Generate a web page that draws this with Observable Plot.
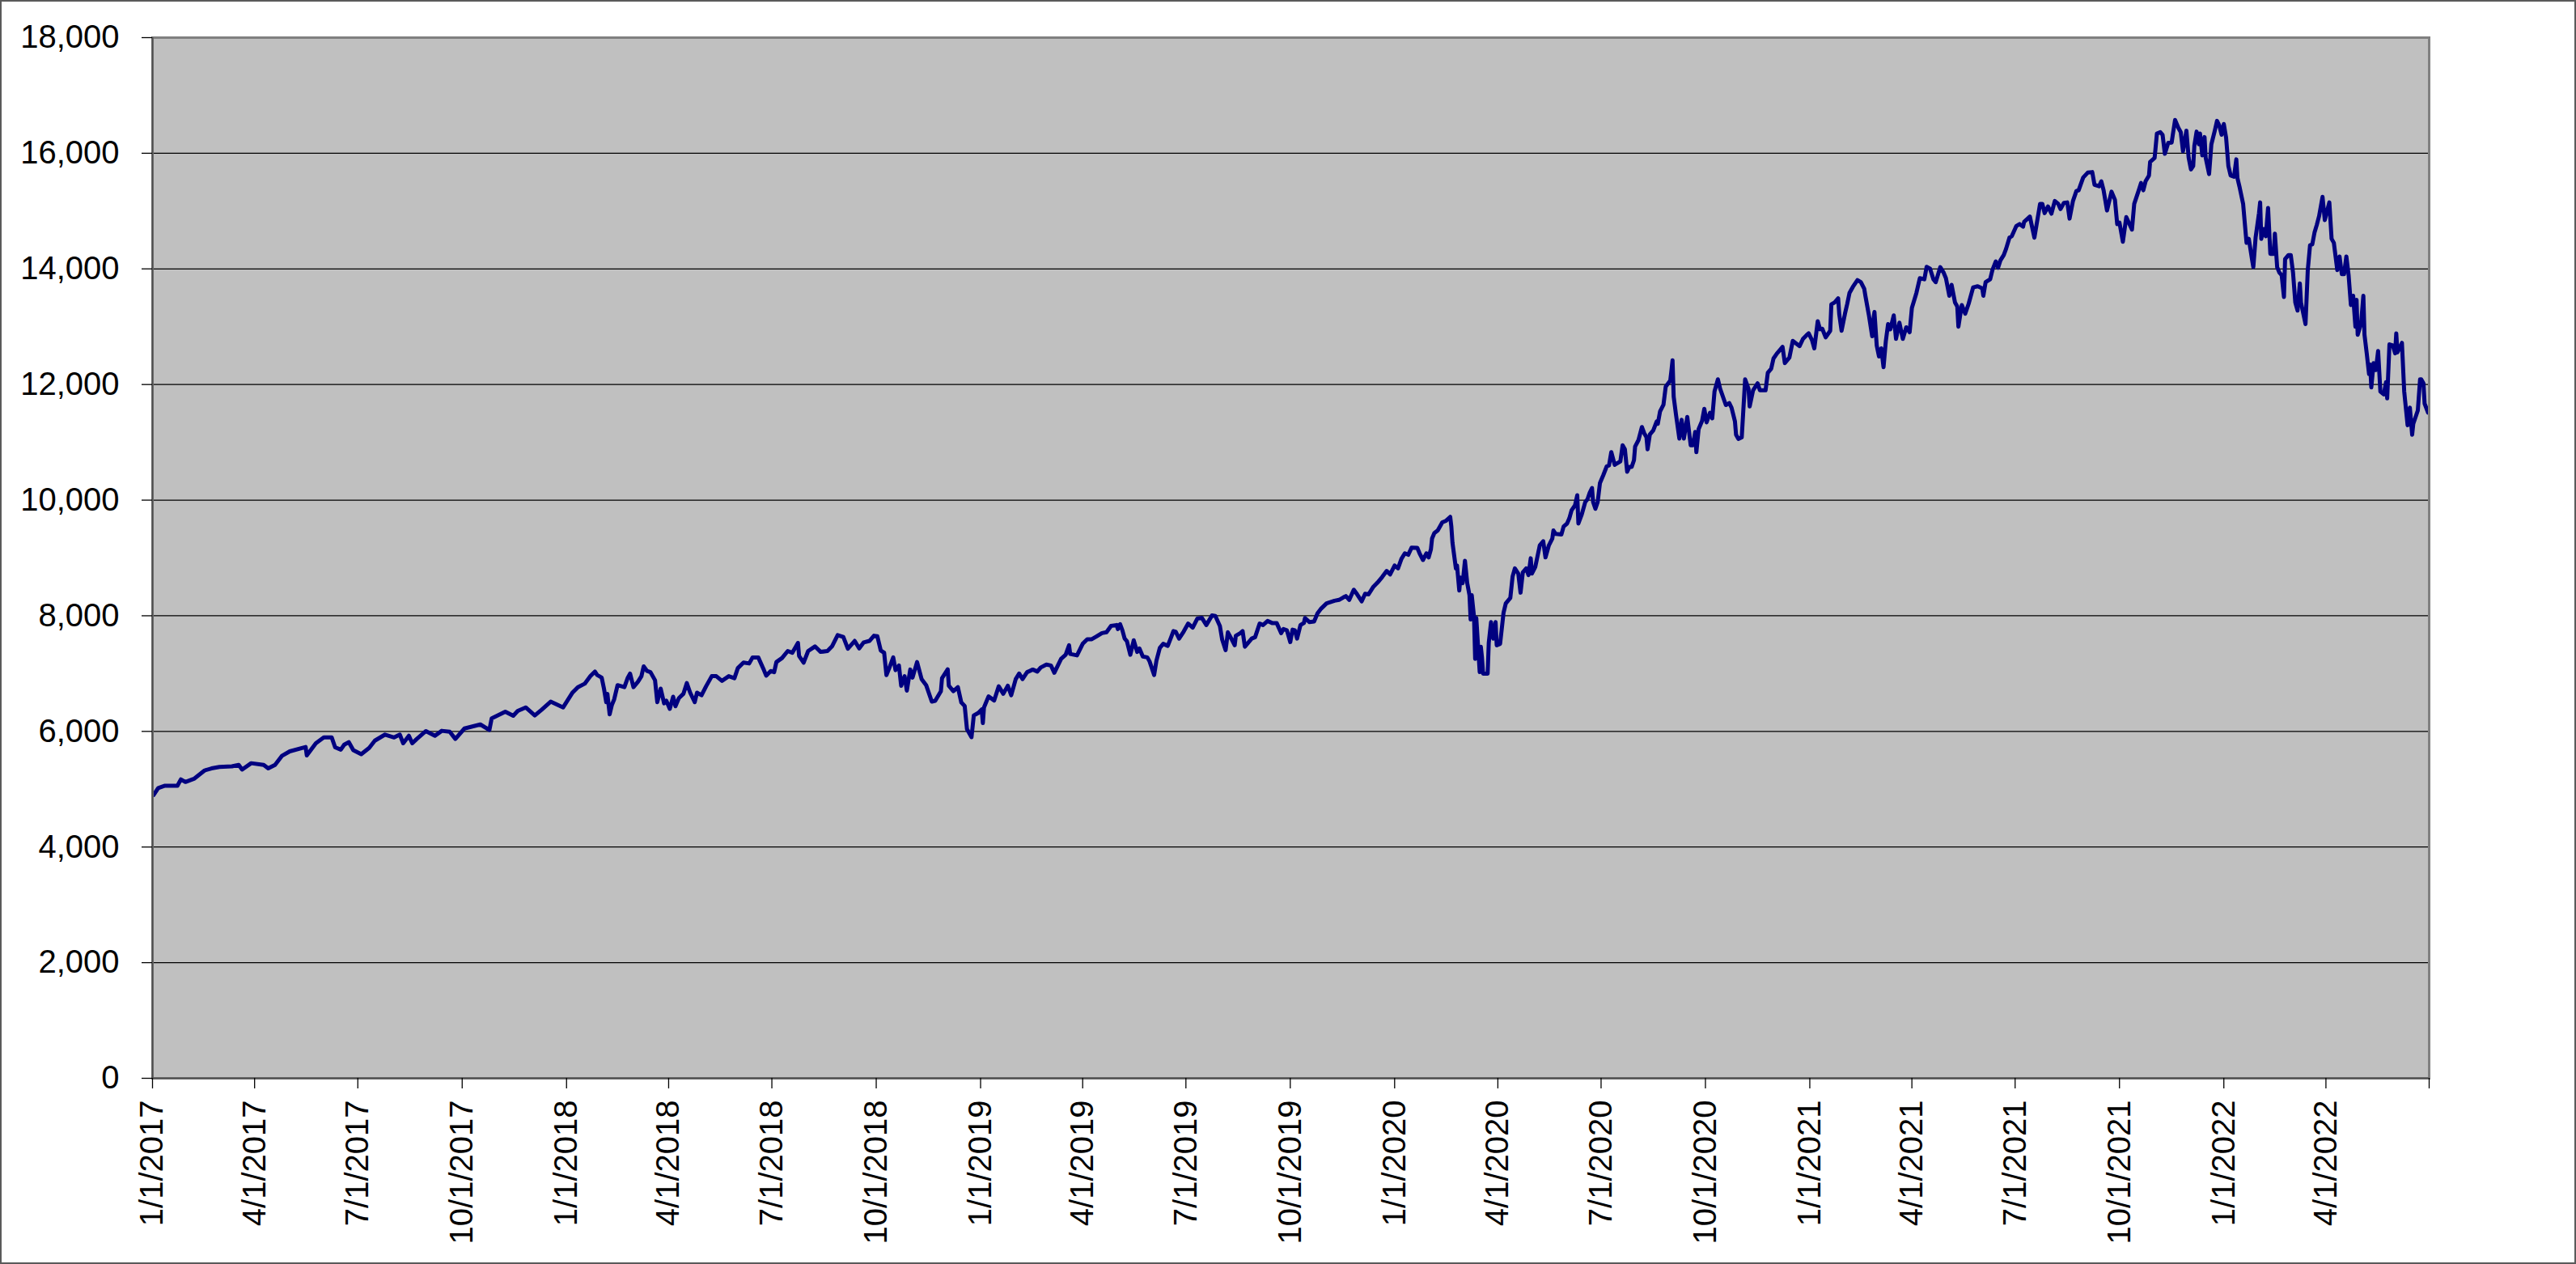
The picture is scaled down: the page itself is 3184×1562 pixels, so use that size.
<!DOCTYPE html>
<html>
<head>
<meta charset="utf-8">
<script src="https://cdn.jsdelivr.net/npm/d3@7"></script>
<script src="https://cdn.jsdelivr.net/npm/@observablehq/plot@0.6"></script>
<style>
  html, body { margin: 0; padding: 0; background: #ffffff; }
  #wrap { position: relative; width: 3184px; height: 1562px; overflow: hidden; background: #ffffff; }
  #wrap svg { position: absolute; left: 0; top: 0; }
  #border { position: absolute; left: 0; top: 0; width: 3184px; height: 1562px; box-sizing: border-box; border: 2px solid #5a5a5a; pointer-events: none; }
</style>
</head>
<body>
<div id="wrap"><div id="border"></div></div>
<script>
// ---- Data (date, index level) ----
const y2017 = [
["2017-01-02",4900],["2017-01-06",5020],["2017-01-12",5060],["2017-01-23",5060],["2017-01-26",5170],
["2017-01-30",5125],["2017-02-07",5185],["2017-02-16",5325],["2017-02-22",5360],["2017-03-01",5385],
["2017-03-12",5395],["2017-03-18",5420],["2017-03-21",5340],["2017-03-29",5450],["2017-04-09",5420],
["2017-04-13",5360],["2017-04-19",5420],["2017-04-25",5575],["2017-05-02",5655],["2017-05-16",5730],
["2017-05-17",5585],["2017-05-25",5795],["2017-06-01",5895],["2017-06-08",5895],["2017-06-11",5725],
["2017-06-16",5685],["2017-06-19",5770],["2017-06-23",5815],["2017-06-27",5675],["2017-07-04",5605],
["2017-07-11",5715],["2017-07-16",5840],["2017-07-25",5945],["2017-08-02",5895],["2017-08-07",5945],
["2017-08-10",5795],["2017-08-15",5925],["2017-08-18",5795],["2017-08-22",5870],["2017-08-30",6005],
["2017-09-07",5925],["2017-09-13",6010],["2017-09-20",5995],["2017-09-25",5870],["2017-10-03",6050],
["2017-10-17",6120],["2017-10-25",6025],["2017-10-27",6225],["2017-11-08",6340],["2017-11-15",6270],
["2017-11-19",6355],["2017-11-26",6415],["2017-12-04",6275],["2017-12-10",6375],["2017-12-18",6515],
["2017-12-29",6415]
];
const y2018 = [
["2018-01-06",6665],["2018-01-11",6765],["2018-01-17",6825],["2018-01-22",6955],["2018-01-26",7035],
["2018-01-28",6975],["2018-02-01",6930],["2018-02-03",6740],["2018-02-05",6505],["2018-02-06",6650],
["2018-02-08",6295],["2018-02-10",6460],["2018-02-12",6555],["2018-02-15",6800],["2018-02-21",6765],
["2018-02-24",6930],["2018-02-26",7000],["2018-03-01",6765],["2018-03-05",6860],["2018-03-08",6955],
["2018-03-10",7125],["2018-03-13",7045],["2018-03-16",7025],["2018-03-20",6885],["2018-03-22",6505],
["2018-03-25",6740],["2018-03-28",6485],["2018-03-30",6530],["2018-04-02",6390],["2018-04-05",6600],
["2018-04-07",6435],["2018-04-10",6575],["2018-04-14",6650],["2018-04-17",6835],["2018-04-20",6670],
["2018-04-24",6505],["2018-04-26",6670],["2018-04-30",6625],["2018-05-04",6780],["2018-05-09",6955],
["2018-05-13",6955],["2018-05-18",6875],["2018-05-24",6955],["2018-05-29",6920],["2018-06-01",7095],
["2018-06-06",7190],["2018-06-11",7175],["2018-06-14",7280],["2018-06-19",7280],["2018-06-24",7060],
["2018-06-26",6965],["2018-06-30",7045],["2018-07-03",7025],["2018-07-05",7200],["2018-07-10",7270],
["2018-07-15",7390],["2018-07-19",7360],["2018-07-24",7530],["2018-07-25",7305],["2018-07-29",7190],
["2018-08-02",7390],["2018-08-08",7470],["2018-08-13",7375],["2018-08-19",7390],["2018-08-23",7470],
["2018-08-28",7665],["2018-09-02",7635],["2018-09-06",7430],["2018-09-12",7565],["2018-09-16",7435],
["2018-09-20",7540],["2018-09-25",7565],["2018-09-29",7655],["2018-10-02",7645],["2018-10-05",7400],
["2018-10-08",7360],["2018-10-10",6975],["2018-10-12",7070],["2018-10-16",7280],["2018-10-18",7060],
["2018-10-21",7140],["2018-10-23",6790],["2018-10-26",6955],["2018-10-28",6705],["2018-10-31",7070],
["2018-11-02",6930],["2018-11-06",7200],["2018-11-10",6905],["2018-11-14",6800],["2018-11-19",6515],
["2018-11-22",6530],["2018-11-27",6695],["2018-11-28",6920],["2018-12-03",7075],["2018-12-04",6790],
["2018-12-08",6695],["2018-12-12",6765],["2018-12-15",6500],["2018-12-18",6440],["2018-12-20",6040],
["2018-12-24",5900],["2018-12-26",6275],["2018-12-30",6320]
];
const y2019 = [
["2019-01-02",6380],["2019-01-03",6145],["2019-01-04",6415],["2019-01-08",6605],["2019-01-13",6535],
["2019-01-17",6780],["2019-01-21",6650],["2019-01-25",6790],["2019-01-28",6625],["2019-02-01",6905],
["2019-02-04",7000],["2019-02-07",6905],["2019-02-11",7025],["2019-02-16",7070],["2019-02-20",7035],
["2019-02-23",7105],["2019-02-28",7155],["2019-03-04",7140],["2019-03-07",7015],["2019-03-13",7255],
["2019-03-17",7325],["2019-03-20",7490],["2019-03-21",7340],["2019-03-27",7315],["2019-04-01",7515],
["2019-04-05",7595],["2019-04-09",7595],["2019-04-13",7640],["2019-04-18",7700],["2019-04-22",7715],
["2019-04-26",7825],["2019-05-01",7840],["2019-05-02",7770],["2019-05-04",7855],["2019-05-06",7750],
["2019-05-08",7605],["2019-05-10",7560],["2019-05-13",7325],["2019-05-16",7575],["2019-05-19",7375],
["2019-05-21",7435],["2019-05-24",7295],["2019-05-28",7280],["2019-05-30",7210],["2019-06-03",6975],
["2019-06-05",7220],["2019-06-08",7445],["2019-06-11",7515],["2019-06-15",7480],["2019-06-18",7630],
["2019-06-20",7735],["2019-06-22",7725],["2019-06-25",7605],["2019-06-29",7725],["2019-07-03",7865],
["2019-07-07",7795],["2019-07-11",7950],["2019-07-15",7965],["2019-07-19",7840],["2019-07-24",8005],
["2019-07-27",7995],["2019-07-31",7820],["2019-08-02",7585],["2019-08-05",7405],["2019-08-07",7715],
["2019-08-10",7605],["2019-08-13",7490],["2019-08-14",7655],["2019-08-18",7700],["2019-08-20",7735],
["2019-08-22",7465],["2019-08-25",7535],["2019-08-28",7605],["2019-08-31",7630],["2019-09-04",7865],
["2019-09-07",7840],["2019-09-11",7910],["2019-09-15",7875],["2019-09-19",7875],["2019-09-23",7700],
["2019-09-25",7770],["2019-09-28",7750],["2019-10-01",7545],["2019-10-03",7760],["2019-10-05",7750],
["2019-10-07",7605],["2019-10-10",7840],["2019-10-13",7875],["2019-10-14",7960],["2019-10-18",7890],
["2019-10-22",7900],["2019-10-25",8040],["2019-10-28",8120],["2019-11-02",8215],["2019-11-09",8260],
["2019-11-13",8275],["2019-11-17",8320],["2019-11-19",8340],["2019-11-22",8275],["2019-11-26",8450],
["2019-11-29",8370],["2019-12-03",8250],["2019-12-06",8380],["2019-12-09",8370],["2019-12-13",8495],
["2019-12-17",8575],["2019-12-21",8670],["2019-12-25",8775],["2019-12-28",8715]
];
const y2020 = [
["2020-01-01",8870],["2020-01-04",8820],["2020-01-07",8985],["2020-01-10",9080],["2020-01-13",9055],
["2020-01-16",9180],["2020-01-21",9175],["2020-01-23",9080],["2020-01-26",8965],["2020-01-29",9080],
["2020-01-31",9010],["2020-02-02",9150],["2020-02-03",9335],["2020-02-05",9430],["2020-02-08",9475],
["2020-02-12",9615],["2020-02-15",9640],["2020-02-19",9710],["2020-02-20",9545],["2020-02-21",9265],
["2020-02-24",8820],["2020-02-25",8870],["2020-02-27",8435],["2020-02-28",8660],["2020-03-01",8565],
["2020-03-03",8950],["2020-03-05",8565],["2020-03-07",8355],["2020-03-08",7935],["2020-03-09",8355],
["2020-03-11",7980],["2020-03-12",7255],["2020-03-13",7960],["2020-03-16",7025],["2020-03-17",7465],
["2020-03-18",7280],["2020-03-19",7000],["2020-03-21",7000],["2020-03-23",7000],["2020-03-24",7535],
["2020-03-26",7890],["2020-03-28",7605],["2020-03-30",7890],["2020-03-31",7490],["2020-04-03",7515],
["2020-04-06",8050],["2020-04-08",8215],["2020-04-12",8310],["2020-04-14",8680],["2020-04-16",8820],
["2020-04-19",8730],["2020-04-21",8400],["2020-04-23",8750],["2020-04-26",8820],["2020-04-28",8705],
["2020-04-30",8995],["2020-05-01",8730],["2020-05-04",8845],["2020-05-08",9220],["2020-05-11",9290],
["2020-05-13",9010],["2020-05-16",9220],["2020-05-19",9335],["2020-05-20",9475],["2020-05-22",9415],
["2020-05-27",9405],["2020-05-29",9545],["2020-06-01",9595],["2020-06-03",9685],["2020-06-05",9825],
["2020-06-08",9910],["2020-06-10",10085],["2020-06-11",9595],["2020-06-14",9755],["2020-06-17",9965],
["2020-06-19",10015],["2020-06-21",10130],["2020-06-23",10210],["2020-06-24",9965],["2020-06-26",9850],
["2020-06-28",9965],["2020-06-30",10295],["2020-07-03",10435],["2020-07-06",10585],["2020-07-08",10600],
["2020-07-10",10830],["2020-07-13",10610],["2020-07-16",10645],["2020-07-18",10670],["2020-07-20",10950],
["2020-07-22",10880],["2020-07-24",10490],["2020-07-26",10575],["2020-07-28",10575],["2020-07-30",10690],
["2020-07-31",10925],["2020-08-03",11040],["2020-08-06",11265],["2020-08-08",11160],["2020-08-10",11090],
["2020-08-11",10880],["2020-08-13",11135],["2020-08-16",11205],["2020-08-19",11360],["2020-08-20",11320],
["2020-08-22",11535],["2020-08-25",11650],["2020-08-27",11965],["2020-08-31",12070],["2020-09-01",12235],
["2020-09-02",12420],["2020-09-03",11790],["2020-09-05",11485],["2020-09-08",11065],["2020-09-10",11390],
["2020-09-12",11065],["2020-09-15",11440],["2020-09-18",10950],["2020-09-20",10950],["2020-09-22",11180],
["2020-09-23",10830],["2020-09-25",11230],["2020-09-28",11370],["2020-09-30",11580],["2020-10-02",11345],
["2020-10-05",11510],["2020-10-07",11415],["2020-10-09",11880],["2020-10-12",12090],["2020-10-14",11925],
["2020-10-19",11645],["2020-10-22",11680],["2020-10-24",11600],["2020-10-27",11365],["2020-10-28",11130],
["2020-10-30",11060],["2020-11-02",11085],["2020-11-05",12090],["2020-11-08",11925],["2020-11-09",11620],
["2020-11-12",11900],["2020-11-16",12020],["2020-11-18",11900],["2020-11-23",11900],["2020-11-25",12205],
["2020-11-28",12275],["2020-11-30",12450],["2020-12-03",12535],["2020-12-05",12580],["2020-12-08",12650],
["2020-12-10",12370],["2020-12-14",12465],["2020-12-17",12755],["2020-12-23",12665],["2020-12-26",12790],
["2020-12-29",12850],["2020-12-31",12885]
];
const y2021 = [
["2021-01-03",12765],["2021-01-05",12625],["2021-01-08",13095],["2021-01-10",12955],["2021-01-12",12965],
["2021-01-15",12815],["2021-01-19",12930],["2021-01-20",13385],["2021-01-23",13420],["2021-01-26",13490],
["2021-01-27",13210],["2021-01-29",12930],["2021-02-01",13225],["2021-02-03",13395],["2021-02-05",13585],
["2021-02-08",13690],["2021-02-12",13805],["2021-02-15",13770],["2021-02-18",13655],["2021-02-19",13535],
["2021-02-22",13210],["2021-02-25",12835],["2021-02-26",13115],["2021-02-27",13255],["2021-03-01",12675],
["2021-03-03",12485],["2021-03-05",12625],["2021-03-07",12300],["2021-03-09",12745],["2021-03-11",13045],
["2021-03-13",12955],["2021-03-16",13195],["2021-03-18",12790],["2021-03-21",13070],["2021-03-24",12790],
["2021-03-27",12990],["2021-03-30",12905],["2021-04-01",13325],["2021-04-05",13585],["2021-04-08",13840],
["2021-04-12",13820],["2021-04-14",14035],["2021-04-17",14005],["2021-04-20",13820],["2021-04-22",13770],
["2021-04-26",14030],["2021-04-29",13935],["2021-05-01",13840],["2021-05-04",13535],["2021-05-06",13725],
["2021-05-09",13420],["2021-05-11",13350],["2021-05-12",13000],["2021-05-15",13375],["2021-05-18",13225],
["2021-05-21",13395],["2021-05-25",13680],["2021-05-29",13700],["2021-06-02",13665],["2021-06-03",13535],
["2021-06-05",13770],["2021-06-09",13820],["2021-06-11",13980],["2021-06-14",14130],["2021-06-16",14020],
["2021-06-18",14145],["2021-06-21",14240],["2021-06-23",14345],["2021-06-26",14540],["2021-06-28",14565],
["2021-07-02",14740],["2021-07-05",14775],["2021-07-08",14730],["2021-07-09",14815],["2021-07-14",14905],
["2021-07-18",14540],["2021-07-20",14775],["2021-07-23",15125],["2021-07-25",15125],["2021-07-27",14965],
["2021-07-30",15080],["2021-08-02",14955],["2021-08-05",15175],["2021-08-08",15125],["2021-08-10",15035],
["2021-08-13",15140],["2021-08-16",15150],["2021-08-18",14870],["2021-08-21",15175],["2021-08-24",15345],
["2021-08-26",15360],["2021-08-30",15580],["2021-09-03",15665],["2021-09-07",15675],["2021-09-09",15455],
["2021-09-13",15430],["2021-09-15",15515],["2021-09-17",15360],["2021-09-20",15010],["2021-09-24",15335],
["2021-09-27",15195],["2021-09-29",14775],["2021-10-01",14800],["2021-10-04",14470],["2021-10-07",14895],
["2021-10-12",14680],["2021-10-14",15125],["2021-10-18",15360],["2021-10-20",15485],["2021-10-22",15360],
["2021-10-24",15515],["2021-10-27",15615],["2021-10-28",15850],["2021-11-01",15920],["2021-11-03",16340],
["2021-11-06",16365],["2021-11-08",16320],["2021-11-10",15990],["2021-11-13",16180],["2021-11-16",16185],
["2021-11-17",16320],["2021-11-19",16575],["2021-11-22",16435],["2021-11-24",16365],["2021-11-26",16035],
["2021-11-29",16390],["2021-12-01",15920],["2021-12-03",15720],["2021-12-05",15780],["2021-12-06",16130],
["2021-12-08",16375],["2021-12-10",16155],["2021-12-11",16340],["2021-12-13",15965],["2021-12-15",16280],
["2021-12-16",15920],["2021-12-19",15640],["2021-12-21",16155],["2021-12-24",16390],["2021-12-26",16560],
["2021-12-28",16480],["2021-12-30",16320]
];
const y2022 = [
["2022-01-01",16505],["2022-01-03",16270],["2022-01-05",15780],["2022-01-07",15615],["2022-01-10",15595],
["2022-01-12",15895],["2022-01-13",15570],["2022-01-15",15405],["2022-01-18",15125],["2022-01-21",14450],
["2022-01-23",14520],["2022-01-26",14145],["2022-01-27",14030],["2022-01-29",14540],["2022-02-01",14965],
["2022-02-02",15150],["2022-02-03",14520],["2022-02-05",14690],["2022-02-07",14565],["2022-02-09",15055],
["2022-02-11",14260],["2022-02-14",14260],["2022-02-15",14610],["2022-02-17",14030],["2022-02-19",13935],
["2022-02-21",13890],["2022-02-23",13515],["2022-02-24",14170],["2022-02-27",14240],["2022-03-01",14240],
["2022-03-03",13935],["2022-03-05",13420],["2022-03-07",13280],["2022-03-09",13750],["2022-03-10",13420],
["2022-03-14",13045],["2022-03-16",13980],["2022-03-18",14410],["2022-03-20",14425],["2022-03-22",14635],
["2022-03-24",14765],["2022-03-26",14915],["2022-03-29",15245],["2022-03-31",14845],["2022-04-04",15150],
["2022-04-06",14520],["2022-04-08",14450],["2022-04-11",13980],["2022-04-13",14215],["2022-04-15",13910],
["2022-04-17",13910],["2022-04-19",14215],["2022-04-21",13890],["2022-04-23",13375],["2022-04-25",13535],
["2022-04-27",13000],["2022-04-28",13465],["2022-04-29",12860],["2022-05-02",13055],["2022-05-04",13535],
["2022-05-05",12860],["2022-05-07",12535],["2022-05-09",12180],["2022-05-10",12345],["2022-05-11",11950],
["2022-05-13",12370],["2022-05-15",12250],["2022-05-17",12580],["2022-05-19",11880],["2022-05-22",11830],
["2022-05-24",12040],["2022-05-25",11760],["2022-05-27",12695],["2022-05-30",12675],["2022-06-01",12540],
["2022-06-02",12885],["2022-06-03",12555],["2022-06-07",12720],["2022-06-09",11880],["2022-06-12",11295],
["2022-06-14",11600],["2022-06-16",11130],["2022-06-17",11320],["2022-06-21",11550],["2022-06-23",12090],
["2022-06-24",12090],["2022-06-26",12020],["2022-06-27",11670],["2022-06-30",11515]
];

// Axis ticks
const yTicks = [0, 2000, 4000, 6000, 8000, 10000, 12000, 14000, 16000, 18000];
const gridTicks = [2000, 4000, 6000, 8000, 10000, 12000, 14000, 16000];
const xTickDates = [
  "2017-01-01","2017-04-01","2017-07-01","2017-10-01",
  "2018-01-01","2018-04-01","2018-07-01","2018-10-01",
  "2019-01-01","2019-04-01","2019-07-01","2019-10-01",
  "2020-01-01","2020-04-01","2020-07-01","2020-10-01",
  "2021-01-01","2021-04-01","2021-07-01","2021-10-01",
  "2022-01-01","2022-04-01","2022-07-01"
];
const xDomain = ["2017-01-01", "2022-07-01"];

// ---- Build ----
const parse = s => new Date(s + "T00:00:00Z");
const series = [...y2017, ...y2018, ...y2019, ...y2020, ...y2021, ...y2022]
  .map(([d, v]) => ({date: parse(d), value: v}));
const xTicks = xTickDates.map(parse);
const endTime = parse(xDomain[1]).getTime();
const fmtDate = d3.utcFormat("%-m/%-d/%Y");

const chart = Plot.plot({
  width: 3184,
  height: 1562,
  marginLeft: 188,
  marginRight: 182,
  marginTop: 46,
  marginBottom: 230,
  style: {
    fontFamily: "'Liberation Sans', Arial, sans-serif",
    fontSize: "40px",
    background: "transparent",
    color: "#000000",
    overflow: "visible"
  },
  x: {type: "utc", domain: xDomain.map(parse)},
  y: {domain: [0, 18000]},
  marks: [
    Plot.frame({fill: "#C0C0C0", stroke: "none"}),
    Plot.gridY(gridTicks, {stroke: "#000000", strokeOpacity: 1, strokeWidth: 1.3}),
    Plot.line(series, {x: "date", y: "value", stroke: "#000080", strokeWidth: 5, strokeLinejoin: "round", strokeLinecap: "round"}),
    Plot.frame({stroke: "#808080", strokeWidth: 3}),
    Plot.ruleX([parse(xDomain[0])], {stroke: "#505050", strokeWidth: 2}),
    Plot.ruleY([0], {stroke: "#505050", strokeWidth: 2}),
    Plot.axisY({
      ticks: yTicks,
      tickSize: 13,
      tickPadding: 28,
      tickFormat: d3.format(","),
      fontSize: 40,
      stroke: "#000000",
      strokeWidth: 1.3,
      label: null
    }),
    Plot.axisX({
      ticks: xTicks,
      tickSize: 13,
      tickPadding: 14,
      tickRotate: -90,
      tickFormat: d => (d.getTime() === endTime ? "" : fmtDate(d)),
      fontSize: 40,
      stroke: "#000000",
      strokeWidth: 1.3,
      label: null
    })
  ]
});
document.getElementById("wrap").prepend(chart);
</script>
</body>
</html>
